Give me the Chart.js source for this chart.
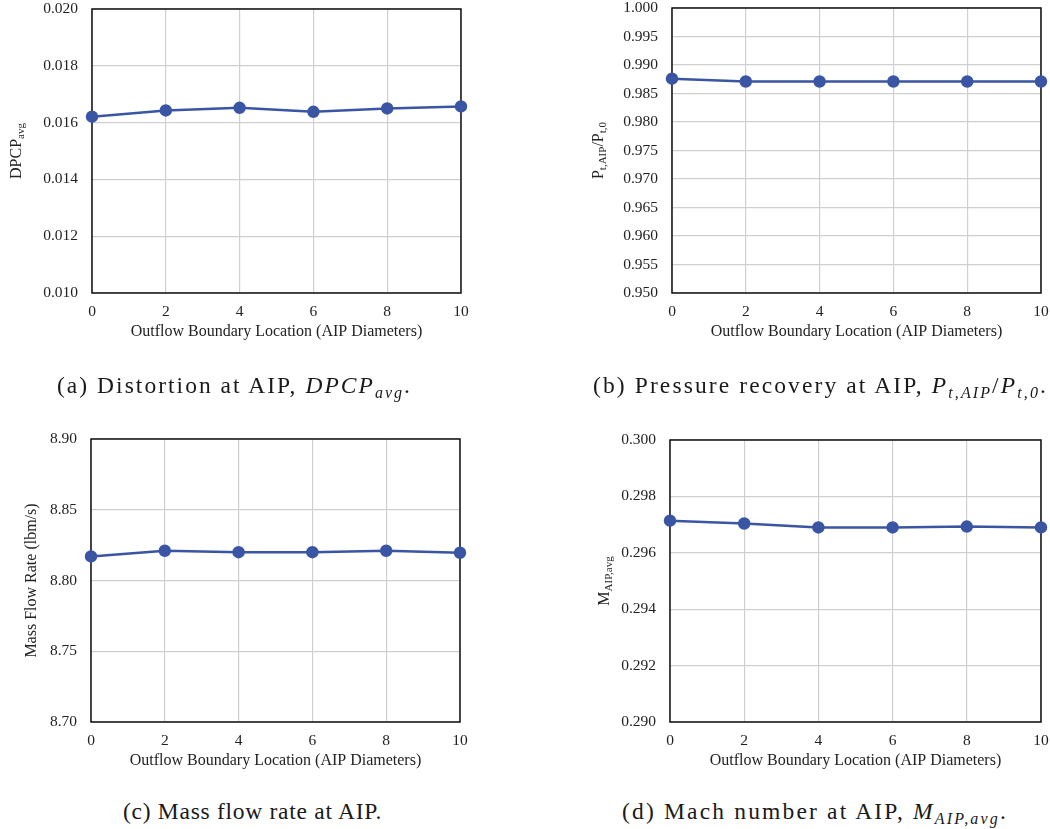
<!DOCTYPE html>
<html>
<head>
<meta charset="utf-8">
<script src="https://cdn.jsdelivr.net/npm/chart.js@4.4.1/dist/chart.umd.min.js"></script>
<style>
  body { margin: 0; background: #fff; width: 1050px; height: 829px; position: relative; overflow: hidden; }
  .panel { position: absolute; }
  .cap { position: absolute; font-family: 'Liberation Serif', serif; font-size: 23.5px; color: #1a1a1a; white-space: nowrap; line-height: 1; }
  .cap i { font-style: italic; }
  .cap sub { font-size: 16px; vertical-align: -5px; font-style: italic; }
</style>
</head>
<body>
<div class="panel" style="left:0;top:0;width:470px;height:345px"><canvas id="ca"></canvas></div>
<div class="panel" style="left:530px;top:0;width:520px;height:345px"><canvas id="cb"></canvas></div>
<div class="panel" style="left:0;top:400px;width:470px;height:375px"><canvas id="cc"></canvas></div>
<div class="panel" style="left:560px;top:400px;width:490px;height:375px"><canvas id="cd"></canvas></div>

<div class="cap" data-w="355" style="left:57px;top:374px">(a) Distortion at AIP, <i>DPCP</i><sub>avg</sub>.</div>
<div class="cap" data-w="455" style="left:593px;top:374px">(b) Pressure recovery at AIP, <i>P</i><sub>t,AIP</sub>/<i>P</i><sub><i>t</i>,0</sub>.</div>
<div class="cap" data-w="259" style="left:123px;top:800px">(c) Mass flow rate at AIP.</div>
<div class="cap" data-w="386" style="left:622px;top:800px">(d) Mach number at AIP, <i>M</i><sub>AIP,avg</sub>.</div>

<script>
// outflow boundary location, AIP diameters
const locations = [0, 2, 4, 6, 8, 10];
const distortion = [0.01621, 0.01643, 0.01652, 0.01638, 0.01650, 0.01657];
const recovery = [0.9876, 0.9871, 0.9871, 0.9871, 0.9871, 0.9871];
const massFlow = [8.817, 8.821, 8.820, 8.820, 8.821, 8.8196];
const mach = [0.29714, 0.29704, 0.29690, 0.29690, 0.29693, 0.29690];

const xTitle = 'Outflow Boundary Location (AIP Diameters)';
const lineColor = '#3A55A4';
const serif = "'Liberation Serif', 'Times New Roman', serif";

// stretch captions a bit so they take the same width as the LaTeX ones
document.querySelectorAll('.cap').forEach(el => {
    const n = el.textContent.length;
    const w = el.getBoundingClientRect().width;
    el.style.letterSpacing = ((+el.dataset.w - w) / n) + 'px';
});

// frame + axis titles (y title has subscripts so draw it by hand)
const framePlugin = {
    id: 'frame',
    beforeDatasetsDraw(chart) {
        const a = chart.chartArea, ctx = chart.ctx;
        ctx.save();
        ctx.strokeStyle = '#111';
        ctx.lineWidth = 1.5;
        ctx.strokeRect(a.left, a.top, a.right - a.left, a.bottom - a.top);
        ctx.restore();
    },
    afterDraw(chart) {
        const a = chart.chartArea, ctx = chart.ctx;
        const o = chart.options.plugins.frame;
        ctx.save();
        ctx.fillStyle = '#222';
        ctx.textBaseline = 'middle';
        ctx.textAlign = 'center';
        ctx.font = '16px ' + serif;
        ctx.fillText(xTitle, (a.left + a.right) / 2, a.bottom + 39);

        // y title
        ctx.translate(a.left + o.yTitleX, (a.top + a.bottom) / 2);
        ctx.rotate(-Math.PI / 2);
        ctx.textAlign = 'left';
        ctx.textBaseline = 'alphabetic';
        let w = 0;
        o.yTitle.forEach(p => {
            ctx.font = (p[1] ? '11px ' : '16px ') + serif;
            w += ctx.measureText(p[0]).width;
        });
        let x = -w / 2;
        o.yTitle.forEach(p => {
            ctx.font = (p[1] ? '11px ' : '16px ') + serif;
            ctx.fillText(p[0], x, p[1] ? 8.5 : 5.5);
            x += ctx.measureText(p[0]).width;
        });
        ctx.restore();
    }
};

function makeChart(id, values, yMin, yMax, step, digits, box, yTitle, yTitleX) {
    return new Chart(document.getElementById(id), {
        type: 'line',
        data: {
            datasets: [{
                data: locations.map((x, i) => ({ x: x, y: values[i] })),
                borderColor: lineColor,
                backgroundColor: lineColor,
                pointBackgroundColor: lineColor,
                borderWidth: 2.5,
                pointRadius: 5,
                pointHoverRadius: 5,
                tension: 0,
                clip: false
            }]
        },
        options: {
            responsive: true,
            maintainAspectRatio: false,
            animation: false,
            layout: { padding: { left: 0, top: box.top, right: box.right, bottom: 0 } },
            scales: {
                x: {
                    type: 'linear',
                    min: 0, max: 10,
                    afterFit: s => { s.height = box.bottom; s.paddingLeft = 0; s.paddingRight = 0; },
                    ticks: { stepSize: 2, padding: 10, color: '#222', font: { family: serif, size: 15.5 } },
                    grid: { color: '#cfcfcf', lineWidth: 1.2, drawTicks: false },
                    border: { display: false }
                },
                y: {
                    min: yMin, max: yMax,
                    afterFit: s => { s.width = box.left; s.paddingTop = 0; s.paddingBottom = 0; },
                    ticks: {
                        stepSize: step, padding: 14, color: '#222',
                        font: { family: serif, size: 15.5 },
                        callback: v => v.toFixed(digits)
                    },
                    grid: { color: '#cfcfcf', lineWidth: 1.2, drawTicks: false },
                    border: { display: false }
                }
            },
            plugins: {
                legend: { display: false },
                tooltip: { enabled: false },
                frame: { yTitle: yTitle, yTitleX: yTitleX }
            }
        },
        plugins: [framePlugin]
    });
}

makeChart('ca', distortion, 0.010, 0.020, 0.002, 3,
    { left: 92, top: 9, right: 9, bottom: 52 },
    [['DPCP', false], ['avg', true]], -77);
makeChart('cb', recovery, 0.950, 1.000, 0.005, 3,
    { left: 142, top: 8, right: 9, bottom: 52 },
    [['P', false], ['t,AIP', true], ['/P', false], ['t,0', true]], -75);
makeChart('cc', massFlow, 8.70, 8.90, 0.05, 2,
    { left: 91, top: 39, right: 10, bottom: 53 },
    [['Mass Flow Rate (lbm/s)', false]], -61);
makeChart('cd', mach, 0.290, 0.300, 0.002, 3,
    { left: 110, top: 40, right: 9, bottom: 53 },
    [['M', false], ['AIP,avg', true]], -67);
</script>
</body>
</html>
